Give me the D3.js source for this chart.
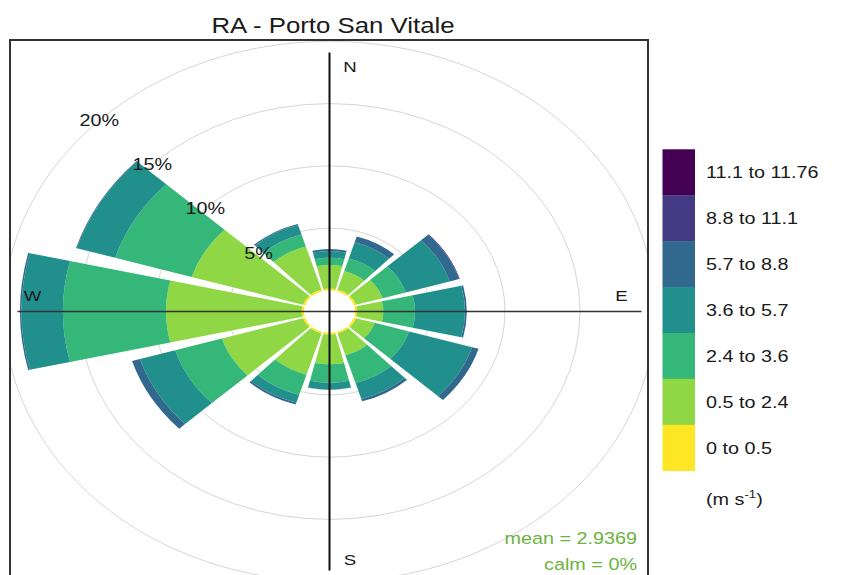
<!DOCTYPE html>
<html><head><meta charset="utf-8">
<script src="https://cdn.jsdelivr.net/npm/d3@7"></script>
<style>body{margin:0;background:#fff}svg{display:block}</style>
</head><body>
<svg id="chart" width="848" height="575"></svg>
<script>
// ---- data ----
const title = "RA - Porto San Vitale";
const directions = [0, 30, 60, 90, 120, 150, 180, 210, 240, 270, 300, 330];
const speedBins = ["0 to 0.5", "0.5 to 2.4", "2.4 to 3.6", "3.6 to 5.7", "5.7 to 8.8", "8.8 to 11.1", "11.1 to 11.76"];
const binColors = ["#FDE725", "#8FD744", "#35B779", "#21908C", "#31688E", "#443A83", "#440154"];
// percentage frequency per direction for each speed bin
const freq_0_05    = [0.15, 0.15, 0.15, 0.15, 0.15, 0.15, 0.15, 0.15, 0.15, 0.15, 0.15, 0.15];
const freq_05_24   = [1.88, 1.55, 1.85, 1.74, 1.30, 1.82, 2.39, 3.45, 5.65, 9.05, 7.75, 3.60];
const freq_24_36   = [0.59, 1.05, 1.60, 2.11, 2.40, 2.33, 1.48, 1.70, 3.25, 6.87, 5.33, 1.00];
const freq_36_57   = [0.54, 1.35, 3.07, 3.33, 4.38, 1.34, 0.55, 0.65, 2.45, 2.76, 2.67, 0.80];
const freq_57_88   = [0.16, 0.50, 0.65, 0.12, 0.45, 0.20, 0.03, 0.15, 0.55, 0.10, 0.05, 0.10];
const freq_88_111  = [0, 0, 0.05, 0, 0, 0, 0, 0, 0, 0, 0, 0];
const freq_111_118 = [0, 0, 0, 0, 0, 0, 0, 0, 0, 0, 0, 0];
const gridTicks = [5, 10, 15, 20];
const compass = [{label: "N", dir: 0}, {label: "E", dir: 90}, {label: "S", dir: 180}, {label: "W", dir: 270}];
const meanText = "mean = 2.9369";
const calmText = "calm = 0%";

// ---- layout ----
const STRETCH = 1.2;          // horizontal text stretch seen in the reference
const cx = 329.5, cy = 311.5;
const aspect = 12.45 / 15;
const font = "'Liberation Sans', Arial, sans-serif";
const r = d3.scaleLinear().domain([0, 20]).range([25.5, 325.5]);
const color = d3.scaleOrdinal().domain(speedBins).range(binColors);
const rad = d => d * Math.PI / 180;

const series = [freq_0_05, freq_05_24, freq_24_36, freq_36_57, freq_57_88, freq_88_111, freq_111_118];
const rows = directions.map((d, i) => {
  const o = {dir: d};
  speedBins.forEach((b, j) => o[b] = series[j][i]);
  return o;
});
const stacked = d3.stack().keys(speedBins)(rows);

const svg = d3.select("#chart");
const panel = {x: 10, y: 40, w: 638, h: 570};
svg.append("defs").append("clipPath").attr("id", "clip")
  .append("rect").attr("x", panel.x).attr("y", panel.y).attr("width", panel.w).attr("height", panel.h);

function addText(parent, x, y, str, size, anchor, fill) {
  return parent.append("text")
    .attr("transform", `translate(${x},${y}) scale(${STRETCH},1)`)
    .attr("text-anchor", anchor || "start")
    .attr("font-family", font)
    .attr("font-size", size)
    .attr("fill", fill || "#1a1a1a")
    .text(str);
}

const g = svg.append("g").attr("clip-path", "url(#clip)");
const polar = g.append("g").attr("transform", `translate(${cx},${cy}) scale(1,${aspect})`);

// grid rings
polar.selectAll("circle.grid").data(gridTicks).join("circle")
  .attr("class", "grid")
  .attr("r", d => r(d))
  .attr("fill", "none")
  .attr("stroke", "#d6d6d6")
  .attr("stroke-width", 1)
  .attr("vector-effect", "non-scaling-stroke");

// wedges
const half = rad(13.2);
const arc = d3.arc();
stacked.forEach(layer => {
  polar.append("g").selectAll("path").data(layer).join("path")
    .attr("d", d => arc({
      innerRadius: r(d[0]), outerRadius: r(d[1]),
      startAngle: rad(d.data.dir) - half, endAngle: rad(d.data.dir) + half
    }))
    .attr("fill", color(layer.key));
});

// axis lines
const axisR = r(19.1);
g.append("line").attr("x1", cx - axisR).attr("x2", cx + axisR).attr("y1", cy).attr("y2", cy)
  .attr("stroke", "#333").attr("stroke-width", 1.5);
g.append("line").attr("x1", cx).attr("x2", cx).attr("y1", cy - axisR * aspect).attr("y2", cy + axisR * aspect)
  .attr("stroke", "#111").attr("stroke-width", 2);

// ring labels along 315 degrees
gridTicks.forEach(v => {
  const a = rad(315);
  const x = cx + r(v) * Math.sin(a);
  const y = cy - r(v) * aspect * Math.cos(a);
  addText(svg, x, y + 6, v + "%", 16.5, "middle");
});

// compass labels
const compassPos = {
  N: [350, 72, "middle"], S: [350, 565, "middle"], E: [621.5, 300.5, "middle"], W: [32.5, 301, "middle"]
};
compass.forEach(c => {
  const p = compassPos[c.label];
  addText(svg, p[0], p[1], c.label, 15.5, p[2]);
});

// mean / calm
addText(svg, 637, 544, meanText, 16.5, "end", "#6cb33e");
addText(svg, 637, 570, calmText, 16.5, "end", "#6cb33e");

// panel border
svg.append("rect").attr("x", panel.x).attr("y", panel.y).attr("width", panel.w).attr("height", panel.h)
  .attr("fill", "none").attr("stroke", "#333").attr("stroke-width", 2);

// title
addText(svg, 333, 33, title, 21.5, "middle");

// legend
const legendBins = speedBins.slice().reverse();
const ly = d3.scaleBand().domain(legendBins).range([149.3, 470.7]);
const legend = svg.append("g");
legend.selectAll("rect").data(legendBins).join("rect")
  .attr("x", 662.5).attr("width", 32.5)
  .attr("y", d => ly(d)).attr("height", ly.bandwidth() + 0.3)
  .attr("fill", d => color(d));
legendBins.forEach(b => {
  addText(legend, 706, ly(b) + ly.bandwidth() / 2 + 6, b, 16.5, "start");
});
const unit = addText(legend, 706, 505, "(m s", 16.5, "start");
unit.append("tspan").attr("font-size", 11).attr("dy", -7).text("-1");
unit.append("tspan").attr("dy", 7).text(")");
</script>
</body></html>
